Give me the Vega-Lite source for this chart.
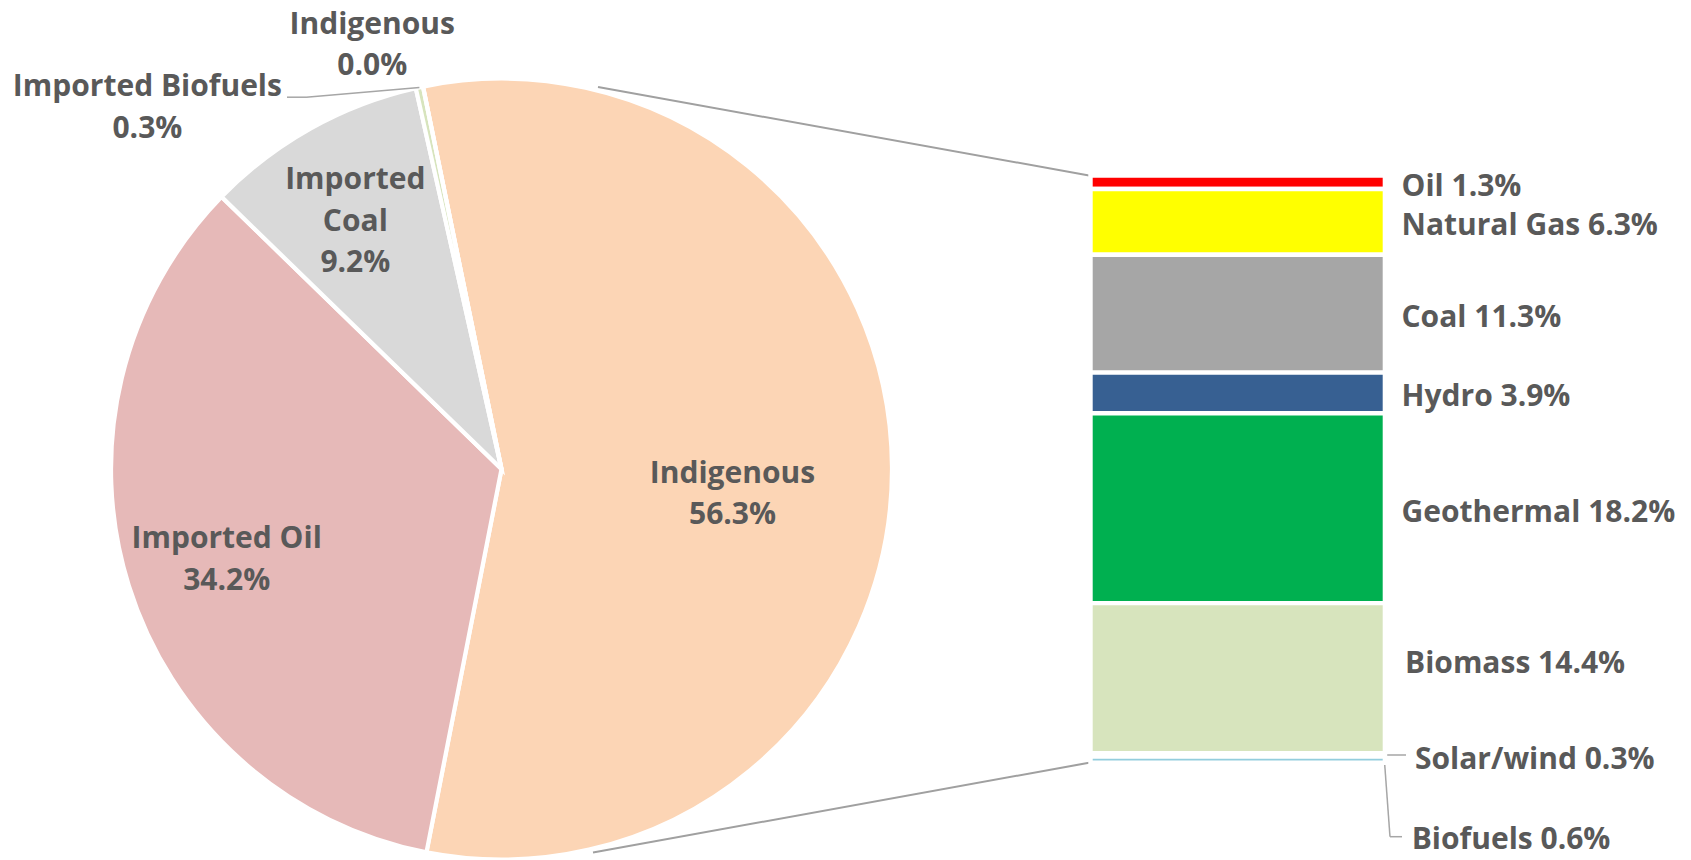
{
  "$schema": "https://vega.github.io/schema/vega-lite/v6.json",
  "width": 1691,
  "height": 860,
  "autosize": {"type": "none"},
  "padding": 0,
  "background": "white",
  "config": {
    "view": {"stroke": null},
    "axis": {"disable": true},
    "legend": {"disable": true}
  },
  "datasets": {
    "pie": [
      {"name": "Indigenous", "value": 56.3},
      {"name": "Imported Oil", "value": 34.2},
      {"name": "Imported Coal", "value": 9.2},
      {"name": "Imported Biofuels", "value": 0.3},
      {"name": "Indigenous", "value": 0.0}
    ],
    "bar": [
      {"name": "Oil", "value": 1.3},
      {"name": "Natural Gas", "value": 6.3},
      {"name": "Coal", "value": 11.3},
      {"name": "Hydro", "value": 3.9},
      {"name": "Geothermal", "value": 18.2},
      {"name": "Biomass", "value": 14.4},
      {"name": "Solar/wind", "value": 0.3},
      {"name": "Biofuels", "value": 0.6}
    ],
    "one": [{}]
  },
  "layer": [
    {
      "data": {"name": "pie"},
      "transform": [
        {"stack": "value", "groupby": [], "sort": [{"field": "value", "order": "descending"}], "as": ["t0", "t1"]},
        {"calculate": "(datum.t0 + datum.t1) / 2", "as": "mid"},
        {"calculate": "format(datum.value, '.1f') + '%'", "as": "pct"},
        {"calculate": "[datum.name, datum.pct]", "as": "lines2"},
        {"calculate": "[split(datum.name, ' ')[0], split(datum.name, ' ')[1], datum.pct]", "as": "lines3"}
      ],
      "layer": [
        {
          "mark": {"type": "arc", "outerRadius": 390.5, "stroke": "white", "strokeWidth": 4.2},
          "encoding": {
            "x": {"datum": 501.5, "type": "quantitative", "scale": {"domain": [0, 1691], "nice": false, "zero": false}, "axis": null},
            "y": {"datum": 28.15, "type": "quantitative", "scale": {"domain": [-16.826, 65.628], "nice": false, "zero": false, "reverse": true}, "axis": null},
            "theta": {"field": "t0", "type": "quantitative", "stack": null, "scale": {"domain": [0, 100], "range": [-0.20246, 6.08073], "nice": false, "zero": false}},
            "theta2": {"field": "t1"},
            "color": {
              "field": "name", "type": "nominal", "legend": null,
              "scale": {
                "domain": ["Indigenous", "Imported Oil", "Imported Coal", "Imported Biofuels", "Oil", "Natural Gas", "Coal", "Hydro", "Geothermal", "Biomass", "Solar/wind", "Biofuels"],
                "range": ["#FCD5B5", "#E6B9B8", "#D9D9D9", "#D7E4BD", "#FF0000", "#FFFF00", "#A6A6A6", "#376092", "#00B050", "#D7E4BD", "#FFC000", "#93CDDD"]
              }
            }
          }
        },
        {
          "transform": [{"filter": "datum.name == 'Indigenous' && datum.value > 1"}],
          "mark": {"type": "text", "radius": 231, "dy": 5.5, "font": "Open Sans", "fontWeight": "bold", "fontSize": 30, "lineHeight": 41.5, "color": "#595959", "align": "center", "baseline": "middle"},
          "encoding": {
            "x": {"datum": 501.5, "type": "quantitative", "scale": {"domain": [0, 1691], "nice": false, "zero": false}, "axis": null},
            "y": {"datum": 28.15, "type": "quantitative", "scale": {"domain": [-16.826, 65.628], "nice": false, "zero": false, "reverse": true}, "axis": null},
            "theta": {"field": "mid", "type": "quantitative", "stack": null, "scale": {"domain": [0, 100], "range": [-0.20246, 6.08073], "nice": false, "zero": false}},
            "text": {"field": "lines2"}
          }
        },
        {
          "transform": [{"filter": "datum.name == 'Imported Oil'"}],
          "mark": {"type": "text", "radius": 289, "dx": 1, "dy": -16.15, "font": "Open Sans", "fontWeight": "bold", "fontSize": 30, "lineHeight": 41.5, "color": "#595959", "align": "center", "baseline": "middle"},
          "encoding": {
            "x": {"datum": 501.5, "type": "quantitative", "scale": {"domain": [0, 1691], "nice": false, "zero": false}, "axis": null},
            "y": {"datum": 28.15, "type": "quantitative", "scale": {"domain": [-16.826, 65.628], "nice": false, "zero": false, "reverse": true}, "axis": null},
            "theta": {"field": "mid", "type": "quantitative", "stack": null, "scale": {"domain": [0, 100], "range": [-0.20246, 6.08073], "nice": false, "zero": false}},
            "text": {"field": "lines2"}
          }
        },
        {
          "transform": [{"filter": "datum.name == 'Imported Coal'"}],
          "mark": {"type": "text", "radius": 289, "dx": -5, "dy": -36.5, "font": "Open Sans", "fontWeight": "bold", "fontSize": 30, "lineHeight": 41.5, "color": "#595959", "align": "center", "baseline": "middle"},
          "encoding": {
            "x": {"datum": 501.5, "type": "quantitative", "scale": {"domain": [0, 1691], "nice": false, "zero": false}, "axis": null},
            "y": {"datum": 28.15, "type": "quantitative", "scale": {"domain": [-16.826, 65.628], "nice": false, "zero": false, "reverse": true}, "axis": null},
            "theta": {"field": "mid", "type": "quantitative", "stack": null, "scale": {"domain": [0, 100], "range": [-0.20246, 6.08073], "nice": false, "zero": false}},
            "text": {"field": "lines3"}
          }
        },
        {
          "transform": [{"filter": "datum.name == 'Imported Biofuels'"}],
          "mark": {"type": "text", "radius": 390.5, "dx": -272, "dy": 0.05, "font": "Open Sans", "fontWeight": "bold", "fontSize": 30, "lineHeight": 41.5, "color": "#595959", "align": "center", "baseline": "middle"},
          "encoding": {
            "x": {"datum": 501.5, "type": "quantitative", "scale": {"domain": [0, 1691], "nice": false, "zero": false}, "axis": null},
            "y": {"datum": 28.15, "type": "quantitative", "scale": {"domain": [-16.826, 65.628], "nice": false, "zero": false, "reverse": true}, "axis": null},
            "theta": {"field": "mid", "type": "quantitative", "stack": null, "scale": {"domain": [0, 100], "range": [-0.20246, 6.08073], "nice": false, "zero": false}},
            "text": {"field": "lines2"}
          }
        },
        {
          "transform": [{"filter": "datum.name == 'Indigenous' && datum.value < 1"}],
          "mark": {"type": "text", "radius": 432, "dx": -42.4, "dy": -21.25, "font": "Open Sans", "fontWeight": "bold", "fontSize": 30, "lineHeight": 41.5, "color": "#595959", "align": "center", "baseline": "middle"},
          "encoding": {
            "x": {"datum": 501.5, "type": "quantitative", "scale": {"domain": [0, 1691], "nice": false, "zero": false}, "axis": null},
            "y": {"datum": 28.15, "type": "quantitative", "scale": {"domain": [-16.826, 65.628], "nice": false, "zero": false, "reverse": true}, "axis": null},
            "theta": {"field": "mid", "type": "quantitative", "stack": null, "scale": {"domain": [0, 100], "range": [-0.20246, 6.08073], "nice": false, "zero": false}},
            "text": {"field": "lines2"}
          }
        }
      ]
    },
    {
      "data": {"name": "one"},
      "layer": [
        {
          "mark": {"type": "rule", "color": "#A0A0A0", "strokeWidth": 2},
          "encoding": {
            "x": {"datum": 598, "type": "quantitative", "scale": {"domain": [0, 1691], "nice": false, "zero": false}, "axis": null},
            "y": {"datum": -8.485, "type": "quantitative", "scale": {"domain": [-16.826, 65.628], "nice": false, "zero": false, "reverse": true}, "axis": null},
            "x2": {"datum": 1089},
            "y2": {"datum": 0}
          }
        },
        {
          "mark": {"type": "rule", "color": "#A0A0A0", "strokeWidth": 2},
          "encoding": {
            "x": {"datum": 593, "type": "quantitative", "scale": {"domain": [0, 1691], "nice": false, "zero": false}, "axis": null},
            "y": {"datum": 64.909, "type": "quantitative", "scale": {"domain": [-16.826, 65.628], "nice": false, "zero": false, "reverse": true}, "axis": null},
            "x2": {"datum": 1089},
            "y2": {"datum": 56.3}
          }
        },
        {
          "mark": {"type": "rule", "color": "#A6A6A6", "strokeWidth": 1.5},
          "encoding": {
            "x": {"datum": 287, "type": "quantitative", "scale": {"domain": [0, 1691], "nice": false, "zero": false}, "axis": null},
            "y": {"datum": -7.507, "type": "quantitative", "scale": {"domain": [-16.826, 65.628], "nice": false, "zero": false, "reverse": true}, "axis": null},
            "x2": {"datum": 306},
            "y2": {"datum": -7.507}
          }
        },
        {
          "mark": {"type": "rule", "color": "#A6A6A6", "strokeWidth": 1.5},
          "encoding": {
            "x": {"datum": 306, "type": "quantitative", "scale": {"domain": [0, 1691], "nice": false, "zero": false}, "axis": null},
            "y": {"datum": -7.507, "type": "quantitative", "scale": {"domain": [-16.826, 65.628], "nice": false, "zero": false, "reverse": true}, "axis": null},
            "x2": {"datum": 419.4},
            "y2": {"datum": -8.447}
          }
        },
        {
          "mark": {"type": "rule", "color": "#A6A6A6", "strokeWidth": 1.5},
          "encoding": {
            "x": {"datum": 1386, "type": "quantitative", "scale": {"domain": [0, 1691], "nice": false, "zero": false}, "axis": null},
            "y": {"datum": 55.561, "type": "quantitative", "scale": {"domain": [-16.826, 65.628], "nice": false, "zero": false, "reverse": true}, "axis": null},
            "x2": {"datum": 1406},
            "y2": {"datum": 55.561}
          }
        },
        {
          "mark": {"type": "rule", "color": "#A6A6A6", "strokeWidth": 1.5},
          "encoding": {
            "x": {"datum": 1384.5, "type": "quantitative", "scale": {"domain": [0, 1691], "nice": false, "zero": false}, "axis": null},
            "y": {"datum": 56.2, "type": "quantitative", "scale": {"domain": [-16.826, 65.628], "nice": false, "zero": false, "reverse": true}, "axis": null},
            "x2": {"datum": 1390},
            "y2": {"datum": 63.394}
          }
        },
        {
          "mark": {"type": "rule", "color": "#A6A6A6", "strokeWidth": 1.5},
          "encoding": {
            "x": {"datum": 1390, "type": "quantitative", "scale": {"domain": [0, 1691], "nice": false, "zero": false}, "axis": null},
            "y": {"datum": 63.394, "type": "quantitative", "scale": {"domain": [-16.826, 65.628], "nice": false, "zero": false, "reverse": true}, "axis": null},
            "x2": {"datum": 1402},
            "y2": {"datum": 63.394}
          }
        }
      ]
    },
    {
      "data": {"name": "bar"},
      "transform": [
        {"window": [{"op": "row_number", "as": "idx"}]},
        {"stack": "value", "groupby": [], "sort": [{"field": "idx", "order": "ascending"}], "as": ["y0", "y1"]},
        {"calculate": "(datum.y0 + datum.y1) / 2", "as": "ym"},
        {"calculate": "datum.name + ' ' + format(datum.value, '.1f') + '%'", "as": "label"}
      ],
      "layer": [
        {
          "mark": {"type": "rect", "stroke": "white", "strokeWidth": 4.4},
          "encoding": {
            "x": {"datum": 1090.5, "type": "quantitative", "scale": {"domain": [0, 1691], "nice": false, "zero": false}, "axis": null},
            "x2": {"datum": 1384.9},
            "y": {"field": "y0", "type": "quantitative", "scale": {"domain": [-16.826, 65.628], "nice": false, "zero": false, "reverse": true}, "axis": null},
            "y2": {"field": "y1"},
            "order": {"field": "idx", "type": "quantitative"},
            "color": {
              "field": "name", "type": "nominal", "legend": null,
              "scale": {
                "domain": ["Indigenous", "Imported Oil", "Imported Coal", "Imported Biofuels", "Oil", "Natural Gas", "Coal", "Hydro", "Geothermal", "Biomass", "Solar/wind", "Biofuels"],
                "range": ["#FCD5B5", "#E6B9B8", "#D9D9D9", "#D7E4BD", "#FF0000", "#FFFF00", "#A6A6A6", "#376092", "#00B050", "#D7E4BD", "#FFC000", "#93CDDD"]
              }
            }
          }
        },
        {
          "transform": [{"filter": "datum.idx <= 5"}],
          "mark": {"type": "text", "dy": 4.5, "font": "Open Sans", "fontWeight": "bold", "fontSize": 30, "color": "#595959", "align": "left", "baseline": "middle"},
          "encoding": {
            "x": {"datum": 1401.5, "type": "quantitative", "scale": {"domain": [0, 1691], "nice": false, "zero": false}, "axis": null},
            "y": {"field": "ym", "type": "quantitative", "scale": {"domain": [-16.826, 65.628], "nice": false, "zero": false, "reverse": true}, "axis": null},
            "text": {"field": "label"}
          }
        },
        {
          "transform": [{"filter": "datum.name == 'Biomass'"}],
          "mark": {"type": "text", "dy": -14, "font": "Open Sans", "fontWeight": "bold", "fontSize": 30, "color": "#595959", "align": "left", "baseline": "middle"},
          "encoding": {
            "x": {"datum": 1405, "type": "quantitative", "scale": {"domain": [0, 1691], "nice": false, "zero": false}, "axis": null},
            "y": {"field": "ym", "type": "quantitative", "scale": {"domain": [-16.826, 65.628], "nice": false, "zero": false, "reverse": true}, "axis": null},
            "text": {"field": "label"}
          }
        },
        {
          "transform": [{"filter": "datum.name == 'Solar/wind'"}],
          "mark": {"type": "text", "dy": 5.1, "font": "Open Sans", "fontWeight": "bold", "fontSize": 30, "color": "#595959", "align": "left", "baseline": "middle"},
          "encoding": {
            "x": {"datum": 1415, "type": "quantitative", "scale": {"domain": [0, 1691], "nice": false, "zero": false}, "axis": null},
            "y": {"field": "ym", "type": "quantitative", "scale": {"domain": [-16.826, 65.628], "nice": false, "zero": false, "reverse": true}, "axis": null},
            "text": {"field": "label"}
          }
        },
        {
          "transform": [{"filter": "datum.name == 'Biofuels'"}],
          "mark": {"type": "text", "dy": 80, "font": "Open Sans", "fontWeight": "bold", "fontSize": 30, "color": "#595959", "align": "left", "baseline": "middle"},
          "encoding": {
            "x": {"datum": 1411.7, "type": "quantitative", "scale": {"domain": [0, 1691], "nice": false, "zero": false}, "axis": null},
            "y": {"field": "ym", "type": "quantitative", "scale": {"domain": [-16.826, 65.628], "nice": false, "zero": false, "reverse": true}, "axis": null},
            "text": {"field": "label"}
          }
        }
      ]
    }
  ]
}
